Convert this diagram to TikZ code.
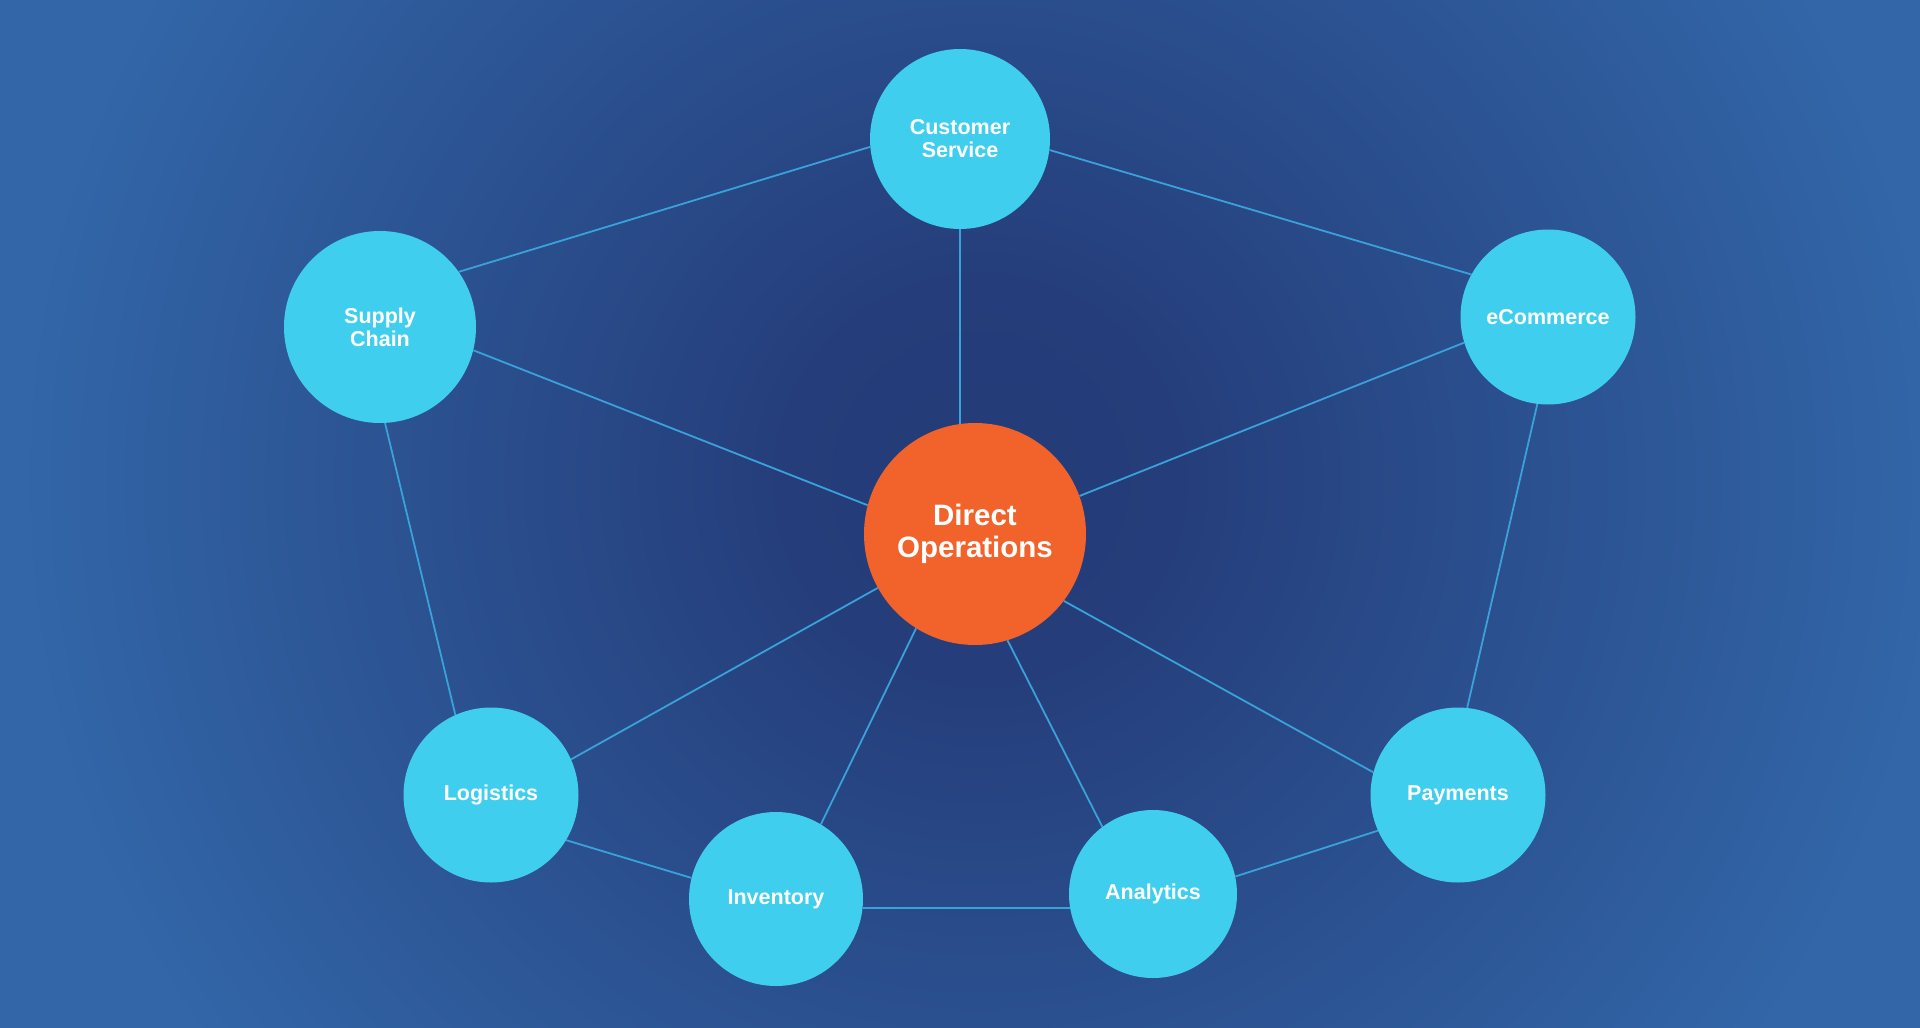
\documentclass[tikz,border=0pt]{standalone}
\usepackage{fontspec}
\setmainfont{Liberation Sans}
\definecolor{bgdark}{HTML}{233C78}
\definecolor{bgmid}{HTML}{253E7B}
\definecolor{bglight}{HTML}{3266A8}
\definecolor{nodecyan}{HTML}{40CEEF}
\definecolor{nodeorange}{HTML}{F2622B}
\definecolor{linkblue}{HTML}{3AA2DA}
\pgfdeclareradialshading{bgshade}{\pgfpoint{0bp}{0bp}}{color(0bp)=(bgdark); color(5bp)=(bgmid); color(24bp)=(bglight); color(50bp)=(bglight)}
\pgfdeclarelayer{back}
\pgfdeclarelayer{links}
\pgfsetlayers{back,links,main}
\tikzset{
  sat/.style={circle, fill=nodecyan, text=white, inner sep=0pt, align=center,
    font=\fontsize{21.5}{23}\selectfont\bfseries},
  hub/.style={circle, fill=nodeorange, text=white, inner sep=0pt, align=center,
    minimum size=222pt, font=\fontsize{29.5}{32}\selectfont\bfseries},
  link/.style={draw=linkblue, line width=1.8pt}
}
\begin{document}
\begin{tikzpicture}[x=1pt,y=-1pt]
\useasboundingbox (0,0) rectangle (1920,1028);
\begin{pgfonlayer}{back}
  \begin{scope}
    \clip (0,0) rectangle (1920,1028);
    \fill[bglight] (0,0) rectangle (1920,1028);
    \shade[shading=bgshade] (-20,-520) rectangle (1980,1480);
  \end{scope}
\end{pgfonlayer}

\node[hub] (do) at (975,534) {Direct\\Operations};
\node[sat, minimum size=180pt] (cs) at (960,139) {Customer\\Service};
\node[sat, minimum size=192pt] (sc) at (380,327) {Supply\\Chain};
\node[sat, minimum size=175pt] (ec) at (1548,317) {eCommerce};
\node[sat, minimum size=175pt] (log) at (491,795) {Logistics};
\node[sat, minimum size=174pt] (inv) at (776,899) {Inventory};
\node[sat, minimum size=168pt] (ana) at (1153,894) {Analytics};
\node[sat, minimum size=175pt] (pay) at (1458,795) {Payments};

\begin{pgfonlayer}{links}
  \draw[link] (sc.35) -- (cs.185.5);
  \draw[link] (cs.353.7) -- (ec.151);
  \draw[link] (cs.270) -- (cs.270 |- do.97.6);
  \draw[link] (sc.346) -- (do.165.4);
  \draw[link] (ec.197) -- (do.20.6);
  \draw[link] (sc.273) -- (log.114.8);
  \draw[link] (ec.263.7) -- (pay.84.4);
  \draw[link] (do.209.7) -- (log.24.4);
  \draw[link] (do.238.7) -- (inv.59.9);
  \draw[link] (do.287.2) -- (ana.127.5);
  \draw[link] (do.323.4) -- (pay.165.4);
  \draw[link] (log.329.6) -- (inv.166.8);
  \draw[link] (inv.354.4) -- (inv.354.4 -| ana.188.2);
  \draw[link] (ana.12.4) -- (pay.204.8);
\end{pgfonlayer}
\end{tikzpicture}
\end{document}
